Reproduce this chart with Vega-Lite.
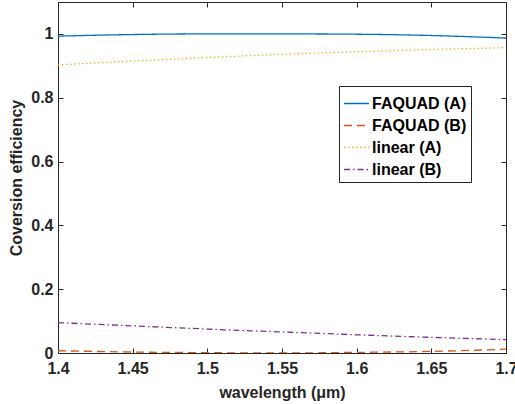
{
  "$schema": "https://vega.github.io/schema/vega-lite/v6.json",
  "width": 448,
  "height": 351,
  "autosize": {"type": "none"},
  "padding": {"left": 58, "top": 2, "right": 9, "bottom": 51},
  "background": "white",
  "config": {
    "view": {"stroke": "#262626", "strokeWidth": 1},
    "font": "Liberation Sans",
    "axis": {
      "grid": false,
      "domain": false,
      "tickSize": -5,
      "tickWidth": 1,
      "tickColor": "#262626",
      "labelFont": "Liberation Sans",
      "labelFontWeight": "bold",
      "labelFontSize": 16,
      "labelColor": "#262626",
      "titleFont": "Liberation Sans",
      "titleFontWeight": "bold",
      "titleFontSize": 16,
      "titleColor": "#262626",
      "labelFlush": false,
      "labelOverlap": false
    }
  },
  "data": {
    "values": [
      {"s": "FAQUAD (A)", "w": 1.4, "e": 0.993},
      {"s": "FAQUAD (A)", "w": 1.45, "e": 0.998},
      {"s": "FAQUAD (A)", "w": 1.5, "e": 1.0},
      {"s": "FAQUAD (A)", "w": 1.55, "e": 1.0},
      {"s": "FAQUAD (A)", "w": 1.6, "e": 0.999},
      {"s": "FAQUAD (A)", "w": 1.65, "e": 0.995},
      {"s": "FAQUAD (A)", "w": 1.7, "e": 0.987},
      {"s": "FAQUAD (B)", "w": 1.4, "e": 0.007},
      {"s": "FAQUAD (B)", "w": 1.45, "e": 0.003},
      {"s": "FAQUAD (B)", "w": 1.5, "e": 0.001},
      {"s": "FAQUAD (B)", "w": 1.55, "e": 0.0},
      {"s": "FAQUAD (B)", "w": 1.6, "e": 0.002},
      {"s": "FAQUAD (B)", "w": 1.65, "e": 0.005},
      {"s": "FAQUAD (B)", "w": 1.7, "e": 0.012},
      {"s": "linear (A)", "w": 1.4, "e": 0.903},
      {"s": "linear (A)", "w": 1.45, "e": 0.915},
      {"s": "linear (A)", "w": 1.5, "e": 0.926},
      {"s": "linear (A)", "w": 1.55, "e": 0.936},
      {"s": "linear (A)", "w": 1.6, "e": 0.944},
      {"s": "linear (A)", "w": 1.65, "e": 0.951},
      {"s": "linear (A)", "w": 1.7, "e": 0.957},
      {"s": "linear (B)", "w": 1.4, "e": 0.095},
      {"s": "linear (B)", "w": 1.45, "e": 0.085},
      {"s": "linear (B)", "w": 1.5, "e": 0.075},
      {"s": "linear (B)", "w": 1.55, "e": 0.066},
      {"s": "linear (B)", "w": 1.6, "e": 0.057},
      {"s": "linear (B)", "w": 1.65, "e": 0.049},
      {"s": "linear (B)", "w": 1.7, "e": 0.042}
    ]
  },
  "resolve": {"axis": {"x": "independent", "y": "independent"}},
  "layer": [
    {
      "mark": {"type": "line", "interpolate": "monotone", "strokeWidth": 1.3, "clip": true},
      "encoding": {
        "x": {
          "field": "w", "type": "quantitative",
          "scale": {"domain": [1.4, 1.7], "nice": false, "zero": false},
          "axis": {"orient": "bottom", "values": [1.4, 1.45, 1.5, 1.55, 1.6, 1.65, 1.7], "format": "~g", "labelPadding": 12, "title": "wavelength (μm)", "titlePadding": 8}
        },
        "y": {
          "field": "e", "type": "quantitative",
          "scale": {"domain": [0, 1.1], "nice": false},
          "axis": {"orient": "left", "values": [0, 0.2, 0.4, 0.6, 0.8, 1], "format": "~g", "labelPadding": 10, "title": "Coversion efficiency", "titlePadding": 6}
        },
        "color": {
          "field": "s", "type": "nominal",
          "scale": {"domain": ["FAQUAD (A)", "FAQUAD (B)", "linear (A)", "linear (B)"], "range": ["#0072BD", "#D95319", "#EDB120", "#7E2F8E"]},
          "legend": {
            "title": null,
            "orient": "none",
            "legendX": 281,
            "legendY": 84,
            "symbolType": "stroke",
            "symbolSize": 625,
            "symbolStrokeWidth": 1.3,
            "labelFont": "Liberation Sans",
            "labelFontWeight": "bold",
            "labelFontSize": 16,
            "labelColor": "#000000",
            "labelOffset": 2,
            "rowPadding": 0,
            "padding": 4,
            "strokeColor": "#262626",
            "fillColor": "white"
          }
        },
        "strokeDash": {
          "field": "s", "type": "nominal",
          "scale": {"domain": ["FAQUAD (A)", "FAQUAD (B)", "linear (A)", "linear (B)"], "range": [[1, 0], [8, 5], [1.5, 2.5], [6, 3, 1.5, 3]]},
          "legend": null
        }
      }
    },
    {
      "mark": {"type": "line", "opacity": 0},
      "encoding": {
        "x": {
          "field": "w", "type": "quantitative",
          "scale": {"domain": [1.4, 1.7], "nice": false, "zero": false},
          "axis": {"orient": "top", "values": [1.4, 1.45, 1.5, 1.55, 1.6, 1.65, 1.7], "labels": false, "title": null}
        },
        "y": {
          "field": "e", "type": "quantitative",
          "scale": {"domain": [0, 1.1], "nice": false},
          "axis": {"orient": "right", "values": [0, 0.2, 0.4, 0.6, 0.8, 1], "labels": false, "title": null}
        }
      }
    }
  ]
}
